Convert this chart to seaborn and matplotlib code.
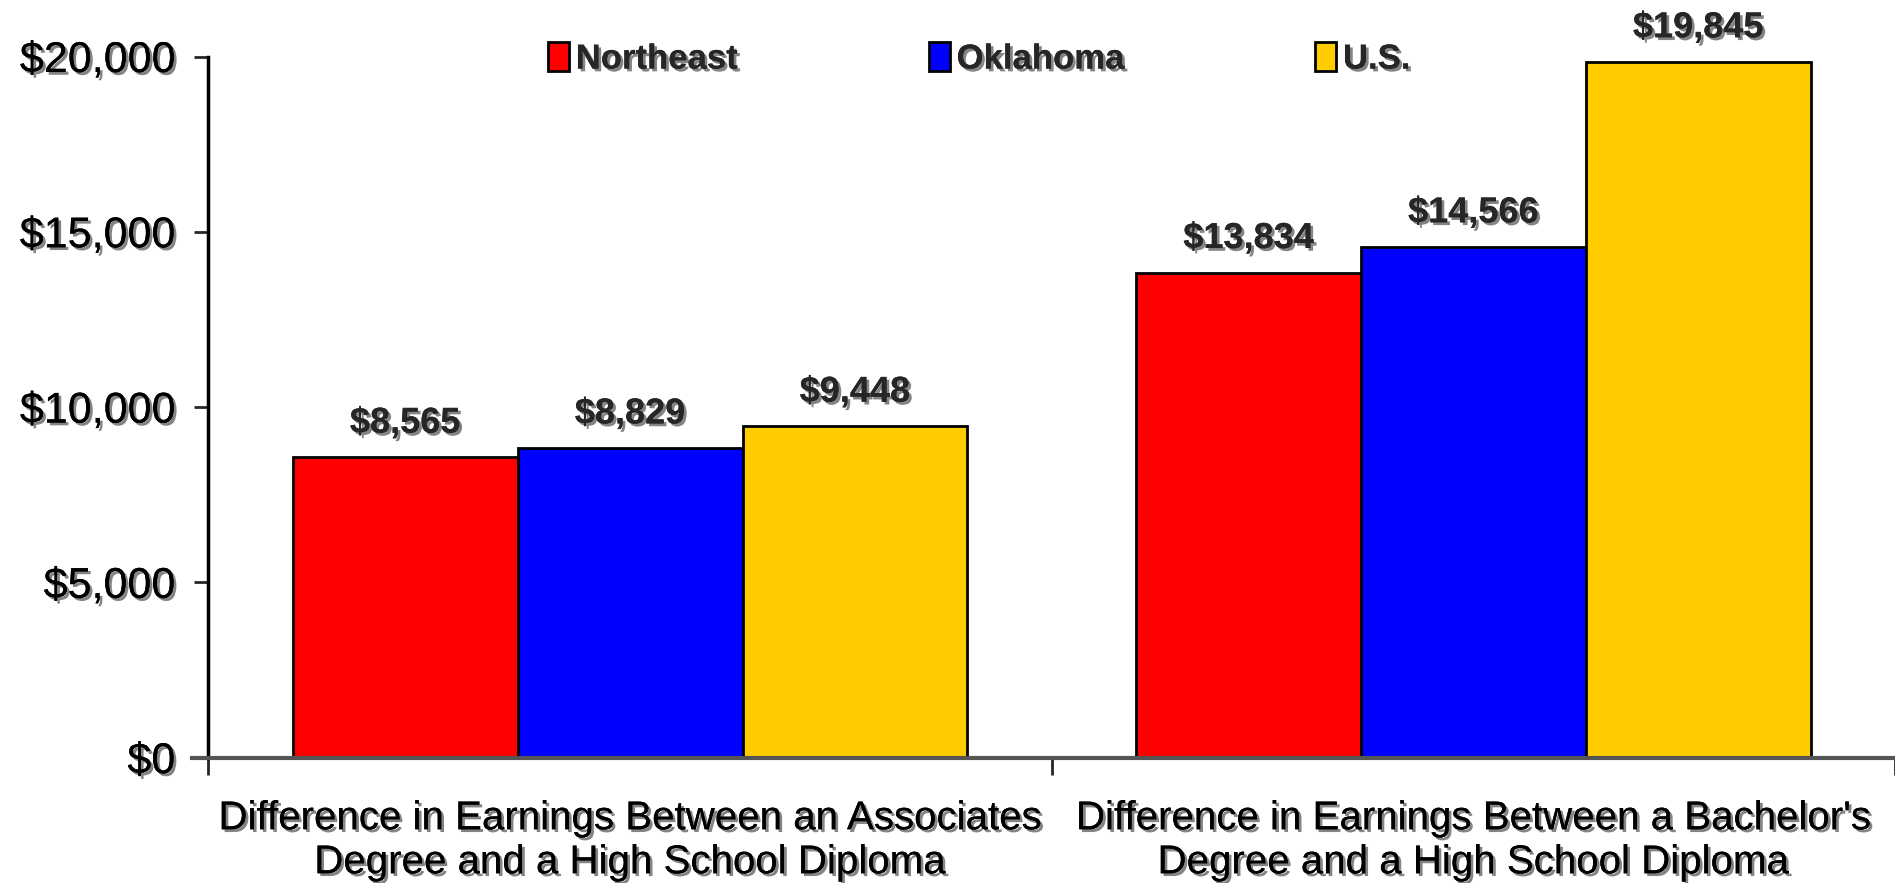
import matplotlib
matplotlib.use("Agg")
import matplotlib.pyplot as plt
import matplotlib.patheffects as pe
from matplotlib.ticker import FuncFormatter
import pandas as pd
import seaborn as sns

# Données
categories = [
    "Difference in Earnings Between an Associates\nDegree and a High School Diploma",
    "Difference in Earnings Between a Bachelor's\nDegree and a High School Diploma",
]
regions = ["Northeast", "Oklahoma", "U.S."]
northeast = [8565, 13834]
oklahoma = [8829, 14566]
us = [9448, 19845]
colors = ["#FF0000", "#0000FF", "#FFCC00"]

rows = []
for reg, vals in zip(regions, [northeast, oklahoma, us]):
    for cat, v in zip(categories, vals):
        rows.append({"Category": cat, "Region": reg, "Earnings": v})
df = pd.DataFrame(rows)

sns.set_theme(style="white")
plt.rcParams["font.family"] = ["Liberation Sans", "DejaVu Sans"]

shadow = [pe.withSimplePatchShadow(offset=(2, -2), shadow_rgbFace="#777777", alpha=0.9), pe.Normal()]

fig = plt.figure(figsize=(18.95, 8.83), dpi=100)
ax = fig.add_axes([0.11, 0.142, 0.89, 0.794])

sns.barplot(data=df, x="Category", y="Earnings", hue="Region", palette=colors,
            saturation=1, edgecolor="black", linewidth=2, width=0.8, ax=ax, legend=True)

for cont in ax.containers:
    labels = [f"${v:,.0f}" for v in cont.datavalues]
    txts = ax.bar_label(cont, labels=labels, padding=12, fontsize=26, fontweight="bold")
    for t in txts:
        t.set_path_effects(shadow)

ax.set_ylim(0, 20000)
ax.set_xlim(-0.5, 1.5)
ax.set_yticks([0, 5000, 10000, 15000, 20000])
ax.yaxis.set_major_formatter(FuncFormatter(lambda v, p: f"${v:,.0f}"))
ax.tick_params(axis="y", labelsize=31, length=10, width=2, direction="out", left=True,
               pad=14, labelcolor="black")
for t in ax.get_yticklabels():
    t.set_path_effects(shadow)

# ticks aux frontières, étiquettes au centre
ax.set_xticks([-0.5, 0.5, 1.5])
ax.set_xticklabels(["", "", ""])
ax.set_xticks([0, 1], minor=True)
ax.set_xticklabels(categories, minor=True, fontsize=29, color="black")
ax.tick_params(axis="x", which="major", length=12, width=2, direction="out", bottom=True)
ax.tick_params(axis="x", which="minor", length=0, pad=30)
for t in ax.get_xticklabels(minor=True):
    t.set_path_effects(shadow)
ax.set_xlabel("")
ax.set_ylabel("")

sns.despine(ax=ax, top=True, right=True)
ax.spines["left"].set_linewidth(2.5)
ax.spines["left"].set_color("black")
ax.spines["bottom"].set_linewidth(3)
ax.spines["bottom"].set_color("#555555")
ax.spines["bottom"].set_bounds(-0.52, 1.5)

leg = ax.legend(loc="upper center", bbox_to_anchor=(0.457, 1.065), ncol=3, frameon=False,
                fontsize=25, handlelength=0.6, handleheight=0.9, handletextpad=0.2,
                columnspacing=5.5)
for t in leg.get_texts():
    t.set_fontweight("bold")
    t.set_path_effects(shadow)
for h in leg.legend_handles:
    h.set_edgecolor("black")
    h.set_linewidth(2)

fig.savefig("out.png", dpi=100)
